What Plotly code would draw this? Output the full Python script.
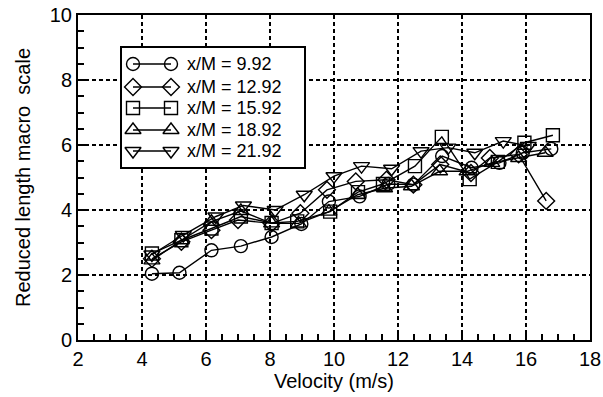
import plotly.graph_objects as go

# ---- data ----
labels = ["x/M = 9.92", "x/M = 12.92", "x/M = 15.92", "x/M = 18.92", "x/M = 21.92"]

v_992 = [4.31, 5.17, 6.17, 7.09, 8.05, 8.98, 9.84, 10.80, 11.70, 12.48, 13.38, 14.30, 15.17, 15.90, 16.79]
l_992 = [2.04, 2.07, 2.76, 2.89, 3.17, 3.57, 4.26, 4.42, 4.80, 4.78, 5.66, 5.30, 5.45, 5.76, 5.88]

v_1292 = [4.31, 5.23, 6.17, 7.00, 8.05, 8.95, 9.78, 10.68, 11.64, 12.48, 13.32, 14.28, 14.87, 15.77, 16.63]
l_1292 = [2.50, 3.02, 3.38, 3.69, 3.59, 3.90, 4.62, 4.88, 4.93, 4.78, 5.40, 5.14, 5.60, 5.71, 4.28]

v_1592 = [4.31, 5.23, 6.17, 7.09, 8.05, 8.85, 9.88, 10.75, 11.53, 12.53, 13.37, 14.24, 15.12, 15.95, 16.84]
l_1592 = [2.66, 3.07, 3.43, 3.80, 3.60, 3.65, 3.95, 4.55, 4.80, 5.35, 6.25, 4.95, 5.48, 6.07, 6.30]

v_1892 = [4.31, 5.23, 6.17, 7.09, 8.05, 8.89, 9.84, 10.74, 11.58, 12.42, 13.30, 14.16, 14.93, 15.77, 16.60]
l_1892 = [2.45, 3.07, 3.64, 3.97, 3.59, 3.59, 3.95, 4.47, 4.67, 4.73, 5.19, 5.19, 5.45, 5.60, 5.76]

v_2192 = [4.31, 5.29, 6.31, 7.17, 8.16, 9.07, 10.00, 10.86, 11.80, 12.72, 13.56, 14.40, 15.29, 16.07]
l_2192 = [2.63, 3.23, 3.80, 4.14, 4.00, 4.47, 5.04, 5.35, 5.27, 5.81, 5.92, 5.76, 6.12, 5.97]

symbols = ["circle-open", "diamond-open", "square-open", "triangle-up-open", "triangle-down-open"]
sizes = [13, 13, 13, 14, 14]
series = [(v_992, l_992), (v_1292, l_1292), (v_1592, l_1592), (v_1892, l_1892), (v_2192, l_2192)]

FONT = "Liberation Sans, Arial, Helvetica, sans-serif"

# layout geometry (pixels)
W, H = 603, 397
L, R, T, B = 78, 590, 15, 340
PW, PH = R - L, B - T
BOX_L, BOX_R, BOX_T, BOX_B = 122, 304, 48, 167
leg_x0, leg_x1, leg_text_x = 133, 171, 185
leg_ys = [64, 87, 108, 130, 151]
X_RANGE, Y_RANGE = [2, 18], [0, 10]

fig = go.Figure()
for (vx, ly), sym, sz, name in zip(series, symbols, sizes, labels):
    fig.add_trace(go.Scatter(
        x=vx, y=ly, mode="lines+markers", name=name, showlegend=False,
        line=dict(color="black", width=1.4),
        marker=dict(symbol=sym, size=sz, color="black", line=dict(width=1.4, color="black")),
    ))

# ---- custom legend drawn in a small inset subplot ----
for yy, sym, sz, name in zip(leg_ys, symbols, sizes, labels):
    fig.add_trace(go.Scatter(
        x=[leg_x0, leg_x1], y=[yy, yy], xaxis="x2", yaxis="y2", mode="lines+markers",
        showlegend=False, hoverinfo="skip", cliponaxis=False,
        line=dict(color="black", width=1.4),
        marker=dict(symbol=sym, size=sz, color="black", line=dict(width=1.4, color="black")),
    ))
    fig.add_annotation(x=leg_text_x, y=yy, xref="x2", yref="y2", text=name, showarrow=False,
                       xanchor="left", yanchor="middle",
                       font=dict(family=FONT, size=18, color="black"))

tick_common = dict(
    ticks="inside", ticklen=9, tickcolor="black", tickwidth=2,
    minor=dict(dtick=0.5, ticks="inside", ticklen=6, tickcolor="black", tickwidth=2),
    zeroline=False, automargin=False,
)
axis_common = dict(
    showline=True, linecolor="black", linewidth=2, mirror=True,
    showgrid=True, gridcolor="black", griddash="4px,3px", gridwidth=2,
    tickfont=dict(family=FONT, size=20, color="black"),
    **tick_common,
)
mirror_common = dict(showline=False, showgrid=False, showticklabels=False, fixedrange=True,
                     **tick_common)

fig.update_layout(
    width=W, height=H,
    margin=dict(l=L, r=W - R, t=T, b=H - B),
    plot_bgcolor="white", paper_bgcolor="white",
    xaxis=dict(range=X_RANGE, dtick=2, tick0=2, domain=[0, 1], anchor="y",
               title=dict(text="Velocity (m/s)", standoff=4,
                          font=dict(family=FONT, size=20, color="black")),
               **axis_common),
    yaxis=dict(range=Y_RANGE, dtick=2, tick0=0, domain=[0, 1], anchor="x",
               title=dict(text="Reduced length macro  scale", standoff=14,
                          font=dict(family=FONT, size=20, color="black")),
               **axis_common),
    # mirrored tick marks on top and right
    xaxis3=dict(range=X_RANGE, dtick=2, tick0=2, overlaying="x", side="top", anchor="y",
                **mirror_common),
    yaxis3=dict(range=Y_RANGE, dtick=2, tick0=0, overlaying="y", side="right", anchor="x",
                **mirror_common),
    xaxis2=dict(domain=[(BOX_L - L) / PW, (BOX_R - L) / PW], range=[BOX_L, BOX_R], anchor="y2",
                showline=True, mirror=True, linecolor="black", linewidth=2,
                showgrid=False, zeroline=False, showticklabels=False, ticks="", fixedrange=True),
    yaxis2=dict(domain=[(B - BOX_B) / PH, (B - BOX_T) / PH], range=[BOX_B, BOX_T], anchor="x2",
                showline=True, mirror=True, linecolor="black", linewidth=2,
                showgrid=False, zeroline=False, showticklabels=False, ticks="", fixedrange=True),
    showlegend=False,
)
fig.write_html("out.html")
